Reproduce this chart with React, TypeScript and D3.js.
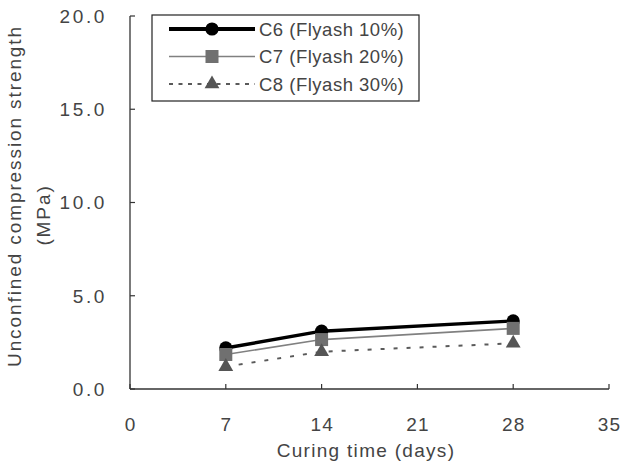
import React from "react";
import * as d3 from "d3";

// Curing time (days) at which specimens were tested
const curingDays = [7, 14, 28];

// Unconfined compression strength (MPa) per mix
const c6Values = [2.2, 3.1, 3.65];
const c7Values = [1.85, 2.65, 3.25];
const c8Values = [1.2, 2.0, 2.45];

const seriesNames = ["C6 (Flyash 10%)", "C7 (Flyash 20%)", "C8 (Flyash 30%)"];

const xTicks = [0, 7, 14, 21, 28, 35];
const yTicks = [0, 5, 10, 15, 20];

const W = 623;
const H = 462;
const FONT = "'Liberation Sans', Arial, sans-serif";
const TEXT = "#444";
const AXIS = "#333";

type Style = {
  stroke: string;
  width: number;
  dash?: string;
  legendDash?: string;
  marker: "circle" | "square" | "triangle";
  fill: string;
};

const styles: Style[] = [
  { stroke: "#000", width: 3.4, marker: "circle", fill: "#000" },
  { stroke: "#808080", width: 1.6, marker: "square", fill: "#707070" },
  { stroke: "#5a5a5a", width: 2, dash: "4,9", legendDash: "4,5.5", marker: "triangle", fill: "#555" },
];

function Marker({ kind, x, y, fill }: { kind: Style["marker"]; x: number; y: number; fill: string }) {
  if (kind === "circle") return <circle cx={x} cy={y} r={6.6} fill={fill} />;
  if (kind === "square") return <rect x={x - 6.5} y={y - 6.5} width={13} height={13} fill={fill} />;
  const s = d3.symbol(d3.symbolTriangle, 95)();
  return <path d={s ?? ""} transform={`translate(${x},${y})`} fill={fill} />;
}

export default function App() {
  const x = d3.scaleLinear().domain([0, 35]).range([130, 609]);
  const y = d3.scaleLinear().domain([0, 20]).range([389, 16]);
  const series = [c6Values, c7Values, c8Values];
  const line = d3
    .line<number>()
    .x((_, i) => x(curingDays[i]))
    .y((v) => y(v));

  const rowY = [29, 56.5, 84];

  return (
    <svg
      width={W}
      height={H}
      style={{ position: "absolute", left: 0, top: 0, background: "#fff" }}
      fontFamily={FONT}
    >
      {/* axes */}
      <line x1={x(0)} x2={x(0)} y1={y(20)} y2={y(0)} stroke={AXIS} strokeWidth={1.3} />
      <line x1={x(0)} x2={x(35)} y1={y(0)} y2={y(0)} stroke={AXIS} strokeWidth={1.3} />
      {yTicks.map((t) => (
        <g key={"y" + t}>
          <line x1={x(0)} x2={x(0) + 5} y1={y(t)} y2={y(t)} stroke={AXIS} strokeWidth={1.2} />
          <text
            x={107}
            y={y(t)}
            dy="0.36em"
            textAnchor="end"
            fontSize={19}
            letterSpacing={2.6}
            fill={TEXT}
          >
            {t.toFixed(1)}
          </text>
        </g>
      ))}
      {xTicks.map((t) => (
        <g key={"x" + t}>
          <line x1={x(t)} x2={x(t)} y1={y(0)} y2={y(0) - 5} stroke={AXIS} strokeWidth={1.2} />
          <text
            x={x(t) + 0.6}
            y={424}
            dy="0.36em"
            textAnchor="middle"
            fontSize={19}
            letterSpacing={1.2}
            fill={TEXT}
          >
            {t}
          </text>
        </g>
      ))}

      {/* axis titles */}
      <text x={366} y={457} textAnchor="middle" fontSize={19} letterSpacing={1.3} fill={TEXT}>
        Curing time (days)
      </text>
      <text
        transform={`translate(20.5,196) rotate(-90)`}
        textAnchor="middle"
        fontSize={19}
        letterSpacing={1.9}
        fill={TEXT}
      >
        Unconfined compression strength
      </text>
      <text
        transform={`translate(50,215) rotate(-90)`}
        textAnchor="middle"
        fontSize={19}
        letterSpacing={1.9}
        fill={TEXT}
      >
        (MPa)
      </text>

      {/* data series */}
      {series.map((vals, si) => {
        const st = styles[si];
        return (
          <g key={"s" + si}>
            <path
              d={line(vals) ?? ""}
              fill="none"
              stroke={st.stroke}
              strokeWidth={st.width}
              strokeDasharray={st.dash}
            />
            {vals.map((v, i) => (
              <Marker key={i} kind={st.marker} x={x(curingDays[i])} y={y(v)} fill={st.fill} />
            ))}
          </g>
        );
      })}

      {/* legend */}
      <rect x={152} y={15} width={267} height={86} fill="#fff" stroke="#222" strokeWidth={1.2} />
      {seriesNames.map((name, i) => {
        const st = styles[i];
        return (
          <g key={"l" + i}>
            <line
              x1={169}
              x2={255}
              y1={rowY[i]}
              y2={rowY[i]}
              stroke={st.stroke}
              strokeWidth={st.width + (i === 0 ? 0.4 : 0)}
              strokeDasharray={st.legendDash}
            />
            <Marker kind={st.marker} x={212} y={rowY[i]} fill={st.fill} />
            <text x={259} y={rowY[i]} dy="0.36em" fontSize={18.5} letterSpacing={0.5} fill={TEXT}>
              {name}
            </text>
          </g>
        );
      })}
    </svg>
  );
}
